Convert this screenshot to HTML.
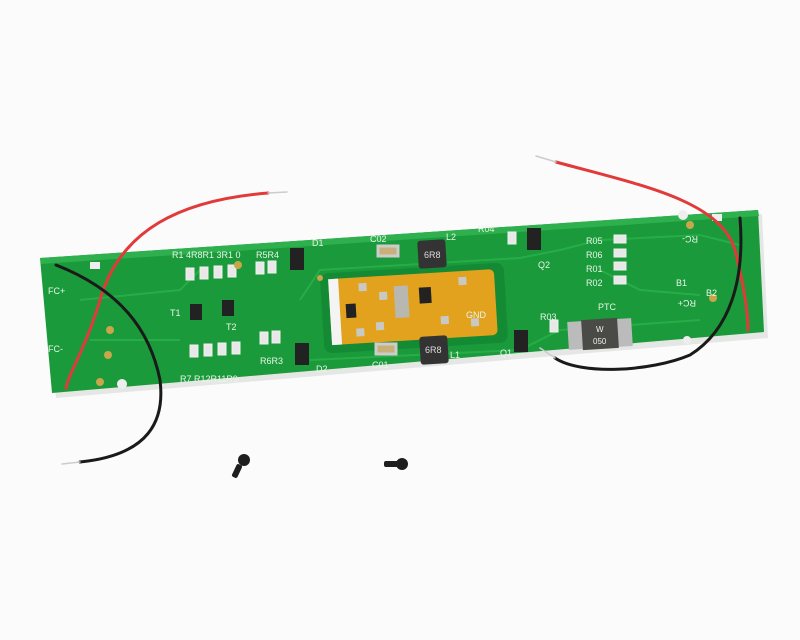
<!DOCTYPE html>
<html><head><style>html,body{margin:0;padding:0;background:#fff;}svg{display:block}</style></head>
<body>
<svg width="800" height="640" viewBox="0 0 800 640" xmlns="http://www.w3.org/2000/svg" font-family="Liberation Sans, sans-serif">
<rect width="800" height="640" fill="#fbfbfb"/>
<!-- board shadow -->
<polygon points="44,264 762,214 768,338 56,398" fill="#cfd4cf" opacity="0.5"/>
<!-- board -->
<polygon points="40,258 758,210 764,332 52,393" fill="#1a9a3a"/>
<polygon points="40,258 758,210 759,216 41,264" fill="#2fb04e"/>
<!-- traces -->
<g stroke="#2bb24c" stroke-width="2" fill="none" opacity="0.8">
<path d="M300,300 L320,270 L520,258 L560,250"/>
<path d="M310,360 L520,350 L560,330 L700,320"/>
<path d="M560,250 L600,240 L700,235 L740,245"/>
<path d="M80,300 L180,290 L200,270"/>
<path d="M90,340 L180,340"/>
<path d="M600,270 L640,290 L700,295"/>
</g>
<!-- orange window -->
<rect x="322" y="268" width="184" height="80" rx="8" fill="#138a33" transform="rotate(-3.5 414 308)"/>
<g transform="rotate(-3.5 414 308)">
<rect x="330" y="274" width="166" height="66" rx="5" fill="#e2a21e"/>
<rect x="330" y="274" width="10" height="66" fill="#f4f4f4"/>
<rect x="395" y="285" width="14" height="32" fill="#b8b8b0"/>
<rect x="420" y="288" width="12" height="16" fill="#222"/>
<rect x="346" y="300" width="10" height="14" fill="#222"/>
<g fill="#c8c8c4"><rect x="360" y="280" width="8" height="8"/><rect x="380" y="290" width="8" height="8"/><rect x="375" y="320" width="8" height="8"/><rect x="440" y="318" width="8" height="8"/><rect x="460" y="280" width="8" height="8"/><rect x="470" y="322" width="8" height="8"/><rect x="355" y="325" width="8" height="8"/></g>
</g>
<!-- inductors -->
<rect x="418" y="240" width="28" height="28" rx="3" fill="#333" transform="rotate(-3.5 432 254)"/>
<text x="424" y="258" font-size="9" fill="#ddd">6R8</text>
<rect x="420" y="336" width="28" height="28" rx="3" fill="#333" transform="rotate(-3.5 434 350)"/>
<text x="425" y="353" font-size="9" fill="#ddd">6R8</text>
<!-- caps -->
<rect x="378" y="246" width="20" height="10" fill="#c9b07a" stroke="#ccc" stroke-width="3"/>
<rect x="376" y="344" width="20" height="10" fill="#c9b07a" stroke="#ccc" stroke-width="3"/>
<!-- PTC -->
<rect x="568" y="320" width="64" height="28" fill="#bbb" transform="rotate(-3.5 600 334)"/>
<rect x="582" y="319" width="36" height="30" fill="#4a4a46" transform="rotate(-3.5 600 334)"/>
<text x="596" y="332" font-size="8" fill="#eee">W</text>
<text x="593" y="344" font-size="8" fill="#eee">050</text>
<!-- transistors -->
<g fill="#222"><rect x="290" y="248" width="14" height="22"/><rect x="527" y="228" width="14" height="22"/><rect x="295" y="343" width="14" height="22"/><rect x="514" y="330" width="14" height="22"/><rect x="190" y="304" width="12" height="16"/><rect x="222" y="300" width="12" height="16"/></g>
<!-- resistors -->
<g fill="#e8e8e8" stroke="#f0f0f0">
<rect x="186" y="268" width="8" height="12"/><rect x="200" y="267" width="8" height="12"/><rect x="214" y="266" width="8" height="12"/><rect x="228" y="265" width="8" height="12"/>
<rect x="256" y="262" width="8" height="12"/><rect x="268" y="261" width="8" height="12"/>
<rect x="190" y="345" width="8" height="12"/><rect x="204" y="344" width="8" height="12"/><rect x="218" y="343" width="8" height="12"/><rect x="232" y="342" width="8" height="12"/>
<rect x="260" y="332" width="8" height="12"/><rect x="272" y="331" width="8" height="12"/>
<rect x="614" y="235" width="12" height="8"/><rect x="614" y="249" width="12" height="8"/><rect x="614" y="262" width="12" height="8"/><rect x="614" y="276" width="12" height="8"/>
<rect x="508" y="232" width="8" height="12"/><rect x="550" y="320" width="8" height="12"/>
</g>
<!-- pads -->
<g fill="#c9a64a"><circle cx="110" cy="330" r="4"/><circle cx="108" cy="355" r="4"/><circle cx="100" cy="382" r="4"/><circle cx="690" cy="225" r="4"/><circle cx="713" cy="298" r="4"/><circle cx="238" cy="265" r="4"/><circle cx="320" cy="278" r="3"/></g>
<g fill="#eee"><circle cx="683" cy="215" r="5"/><circle cx="122" cy="384" r="5"/><rect x="90" y="262" width="10" height="7"/><rect x="712" y="214" width="10" height="7"/><circle cx="687" cy="340" r="4"/></g>
<!-- labels -->
<g font-size="9" fill="#e8f5e8">
<text x="48" y="294">FC+</text><text x="48" y="352">FC-</text>
<text x="674" y="242" transform="rotate(180 686 239)">RC-</text>
<text x="676" y="286">B1</text><text x="672" y="306" transform="rotate(180 684 303)">RC+</text>
<text x="706" y="296">B2</text>
<text x="466" y="318">GND</text><text x="598" y="310">PTC</text>
<text x="172" y="258">R1 4R8R1 3R1 0</text><text x="180" y="382">R7 R12R11R9</text>
<text x="540" y="320">R03</text><text x="478" y="232">R04</text>
<text x="586" y="244">R05</text><text x="586" y="258">R06</text><text x="586" y="272">R01</text><text x="586" y="286">R02</text>
<text x="538" y="268">Q2</text><text x="500" y="356">Q1</text>
<text x="370" y="242">C02</text><text x="372" y="368">C01</text>
<text x="446" y="240">L2</text><text x="450" y="358">L1</text>
<text x="312" y="246">D1</text><text x="316" y="372">D2</text>
<text x="170" y="316">T1</text><text x="226" y="330">T2</text>
<text x="256" y="258">R5R4</text><text x="260" y="364">R6R3</text>
</g>
<!-- wires -->
<g fill="none" stroke-linecap="round">
<path d="M268,193 C180,200 120,230 100,300 C85,350 70,370 66,388" stroke="#e23a3a" stroke-width="3"/>
<path d="M268,193 L287,192" stroke="#ccc" stroke-width="1.5"/>
<path d="M56,265 C120,290 150,330 160,380 C165,420 150,455 80,462" stroke="#1a1a1a" stroke-width="3"/>
<path d="M80,462 L62,464" stroke="#ccc" stroke-width="1.5"/>
<path d="M556,162 C640,185 720,200 735,250 C745,290 748,315 748,330" stroke="#e23a3a" stroke-width="3"/>
<path d="M556,162 L536,156" stroke="#ccc" stroke-width="1.5"/>
<path d="M740,218 C745,280 730,330 690,355 C650,372 580,375 555,358" stroke="#1a1a1a" stroke-width="3"/>
<path d="M555,358 L540,348" stroke="#ccc" stroke-width="1.5"/>
</g>
<!-- screws -->
<g fill="#1e1e1e">
<circle cx="244" cy="460" r="6"/><rect x="234" y="464" width="6" height="14" rx="2" transform="rotate(25 237 471)"/>
<circle cx="402" cy="464" r="6"/><rect x="384" y="461" width="14" height="6" rx="2"/>
</g>
</svg>
</body></html>
